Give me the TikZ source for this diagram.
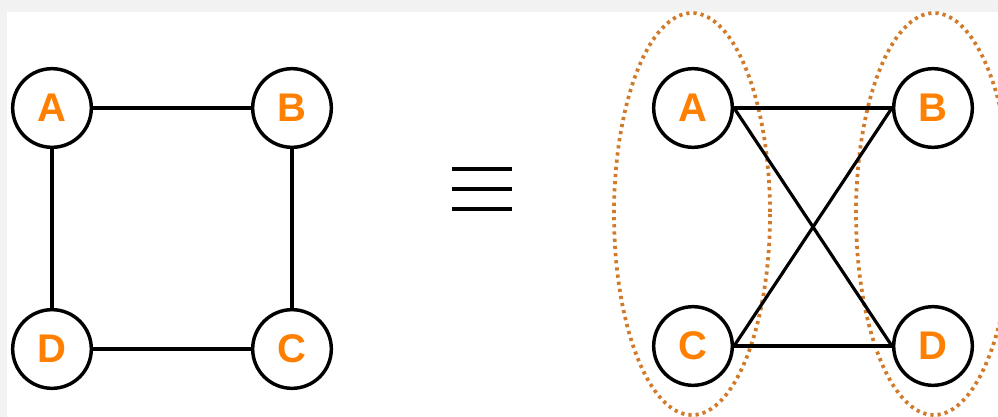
\documentclass[tikz,border=0pt]{standalone}
\usepackage{fontspec}
\setmainfont{Liberation Sans}
\begin{document}
\begin{tikzpicture}[x=0.75pt,y=0.75pt,yscale=-1,xscale=1,
	vertex/.style={draw=black,line width=2.6pt,circle,minimum size=59pt,inner sep=0pt,fill=white,
		text=letter,font=\fontsize{30}{32}\selectfont\bfseries},
	edge/.style={line width=2.4pt,black},
	group/.style={draw=ring,line width=2.8pt,dash pattern=on 2.4pt off 3pt}]
	\definecolor{letter}{RGB}{255,128,0}
	\definecolor{ring}{RGB}{208,122,42}
	\useasboundingbox (0,0) rectangle (998,417);
	\fill [gray!10] (0,0) rectangle (998,417);
	\fill [white] (7,12) rectangle (998,417);

	% left graph
	\node [vertex] (lA) at (52,108) {A};
	\node [vertex] (lB) at (292,108) {B};
	\node [vertex] (lC) at (292,349) {C};
	\node [vertex] (lD) at (52,349) {D};
	\draw [edge] (lA) -- (lB);
	\draw [edge] (lB) -- (lC);
	\draw [edge] (lC) -- (lD);
	\draw [edge] (lD) -- (lA);

	% equivalence sign
	\draw [line width=2.8pt] (452,169) -- (512,169);
	\draw [line width=2.8pt] (452,189) -- (512,189);
	\draw [line width=2.8pt] (452,209) -- (512,209);

	% right graph, drawn as bipartite
	\draw [group] (692,214) ellipse [x radius=78,y radius=201];
	\draw [group] (934,214) ellipse [x radius=78,y radius=201];
	\node [vertex] (rA) at (693,108) {A};
	\node [vertex] (rB) at (933,108) {B};
	\node [vertex] (rC) at (693,346) {C};
	\node [vertex] (rD) at (933,346) {D};
	\draw [edge] (rA.east) -- (rB.west);
	\draw [edge] (rA.east) -- (rD.west);
	\draw [edge] (rC.east) -- (rB.west);
	\draw [edge] (rC.east) -- (rD.west);
\end{tikzpicture}
\end{document}
